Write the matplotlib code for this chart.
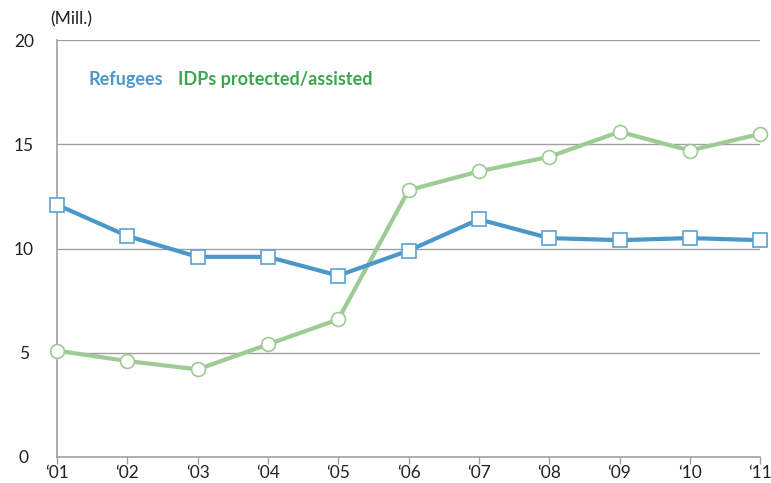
import matplotlib.pyplot as plt

# Data (millions)
years = ["\u201801", "\u201802", "\u201803", "\u201804", "\u201805", "\u201806",
         "\u201807", "\u201808", "\u201809", "\u201810", "\u201811"]
refugees = [12.1, 10.6, 9.6, 9.6, 8.7, 9.9, 11.4, 10.5, 10.4, 10.5, 10.4]
idps = [5.1, 4.6, 4.2, 5.4, 6.6, 12.8, 13.7, 14.4, 15.6, 14.7, 15.5]
y_ticks = [0, 5, 10, 15, 20]

blue = "#4b97c9"
green_line = "#9ccb94"
green_text = "#3aa650"
grid_col = "#a0a0a0"

plt.rcParams["font.family"] = ["Lato", "DejaVu Sans"]

fig = plt.figure(figsize=(7.71, 4.83), dpi=100)
ax = fig.add_axes([0.074, 0.054, 0.912, 0.863])

x = list(range(len(years)))
ax.plot(x, idps, color=green_line, lw=3, marker="o", ms=10,
        mfc="white", mec=green_line, mew=1.2, clip_on=False, zorder=3)
ax.plot(x, refugees, color=blue, lw=3, marker="s", ms=10.5,
        mfc="white", mec="#5aa3d3", mew=1.2, clip_on=False, zorder=4)

ax.set_xlim(0, len(years) - 1)
ax.set_ylim(0, 20)
ax.set_yticks(y_ticks)
ax.set_xticks(x)
ax.set_xticklabels(years)

for v in y_ticks[1:]:
    ax.axhline(v, color=grid_col, lw=1, zorder=1)

for s in ["top", "right"]:
    ax.spines[s].set_visible(False)
ax.spines["left"].set_color(grid_col)
ax.spines["bottom"].set_color(grid_col)
ax.spines["left"].set_linewidth(1.2)
ax.spines["bottom"].set_linewidth(1.2)

ax.tick_params(axis="y", length=0, pad=24, labelsize=12.5, labelcolor="#222222")
ax.tick_params(axis="x", length=5, width=1, color=grid_col, direction="out",
               pad=1, labelsize=12.5, labelcolor="#222222")
for lbl in ax.get_yticklabels():
    lbl.set_horizontalalignment("center")

fig.text(0.065, 0.96, "(Mill.)", fontsize=12.5, color="#222222", ha="left", va="center")
ax.text(0.045, 0.905, "Refugees", transform=ax.transAxes, color=blue,
        fontsize=13, fontweight="bold", va="center")
ax.text(0.172, 0.905, "IDPs protected/assisted", transform=ax.transAxes,
        color=green_text, fontsize=13, fontweight="bold", va="center")

fig.savefig("out.png", dpi=100)
